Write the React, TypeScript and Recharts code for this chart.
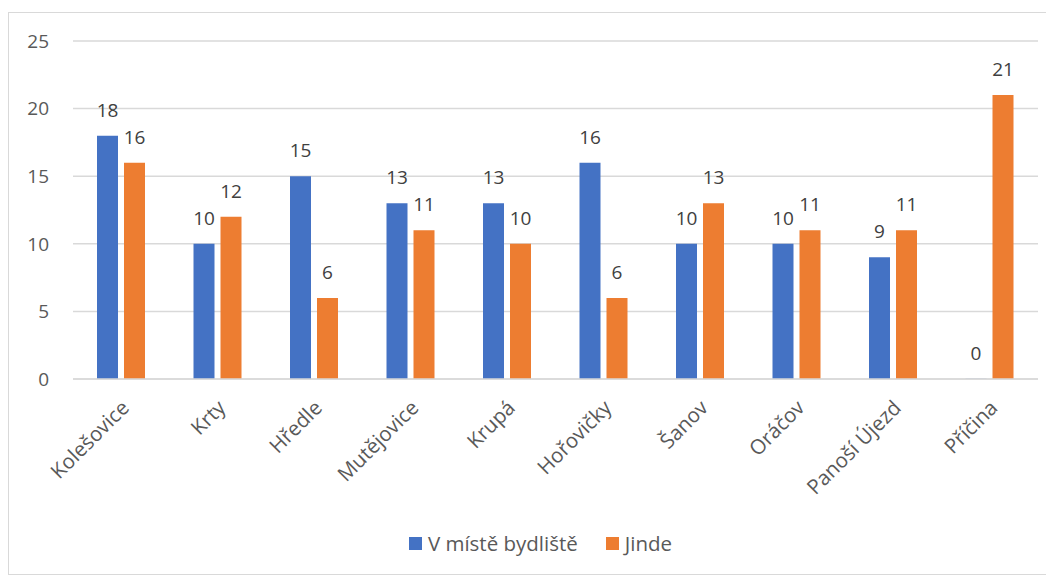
import { BarChart, Bar, XAxis, YAxis, CartesianGrid, Legend, LabelList } from 'recharts';

const obce = ['Kolešovice', 'Krty', 'Hředle', 'Mutějovice', 'Krupá', 'Hořovičky', 'Šanov', 'Oráčov', 'Panoší Újezd', 'Příčina'];
const vMisteBydliste = [18, 10, 15, 13, 13, 16, 10, 10, 9, 0];
const jinde = [16, 12, 6, 11, 10, 6, 13, 11, 11, 21];
const yTicks = [0, 5, 10, 15, 20, 25];

const series = [
  { key: 'vMiste', name: 'V místě bydliště', color: '#4472C4' },
  { key: 'jinde', name: 'Jinde', color: '#ED7D31' },
];

const data = obce.map((name, i) => ({ name, vMiste: vMisteBydliste[i], jinde: jinde[i] }));

const FONT = '"Open Sans", sans-serif';
const FS_NUM = 19;
const FS_TEXT = 20.5;
const TEXT = '#595959';

const RotatedTick = ({ x, y, payload }: any) => (
  <g transform={`translate(${x + 4},${y + 17})`}>
    <text x={0} y={0} dy="0.35em" textAnchor="end" transform="rotate(-45)" fill={TEXT} fontSize={FS_TEXT} fontFamily={FONT}>
      {payload.value}
    </text>
  </g>
);

const LegendContent = () => (
  <div style={{ height: 40, display: 'flex', alignItems: 'center', justifyContent: 'center', paddingLeft: 62 }}>
    {series.map((s) => (
      <div key={s.key} style={{ display: 'flex', alignItems: 'center', marginRight: 28 }}>
        <span style={{ width: 13, height: 13, background: s.color, marginRight: 6 }} />
        <span style={{ color: TEXT, fontSize: FS_TEXT, fontFamily: FONT }}>{s.name}</span>
      </div>
    ))}
  </div>
);

const App = () => {
  return (
    <div style={{ marginTop: 4, width: 1044, height: 561, border: '1px solid #d9d9d9', background: '#fff' }}>
      <BarChart
        width={1044}
        height={561}
        data={data}
        margin={{ top: 28, right: 15, left: 0, bottom: 11 }}
        barSize={21}
        barGap={6}
      >
        <CartesianGrid vertical={false} stroke="#d9d9d9" strokeWidth={1.5} />
        <XAxis
          dataKey="name"
          axisLine={{ stroke: '#d9d9d9', strokeWidth: 1.5 }}
          tickLine={false}
          interval={0}
          height={144}
          tick={<RotatedTick />}
        />
        <YAxis
          domain={[0, 25]}
          ticks={yTicks}
          axisLine={false}
          tickLine={false}
          width={64}
          tickMargin={18}
          tick={{ fill: TEXT, fontSize: FS_NUM, fontFamily: FONT }}
        />
        <Legend verticalAlign="bottom" height={40} content={<LegendContent />} />
        {series.map((s) => (
          <Bar
            key={s.key}
            dataKey={s.key}
            name={s.name}
            fill={s.color}
            minPointSize={(v: number) => (v === 0 ? 0.2 : 0)}
            isAnimationActive={false}
          >
            <LabelList dataKey={s.key} position="top" offset={19} fill="#404040" fontSize={FS_NUM} fontFamily={FONT} />
          </Bar>
        ))}
      </BarChart>
    </div>
  );
};

export default App;
